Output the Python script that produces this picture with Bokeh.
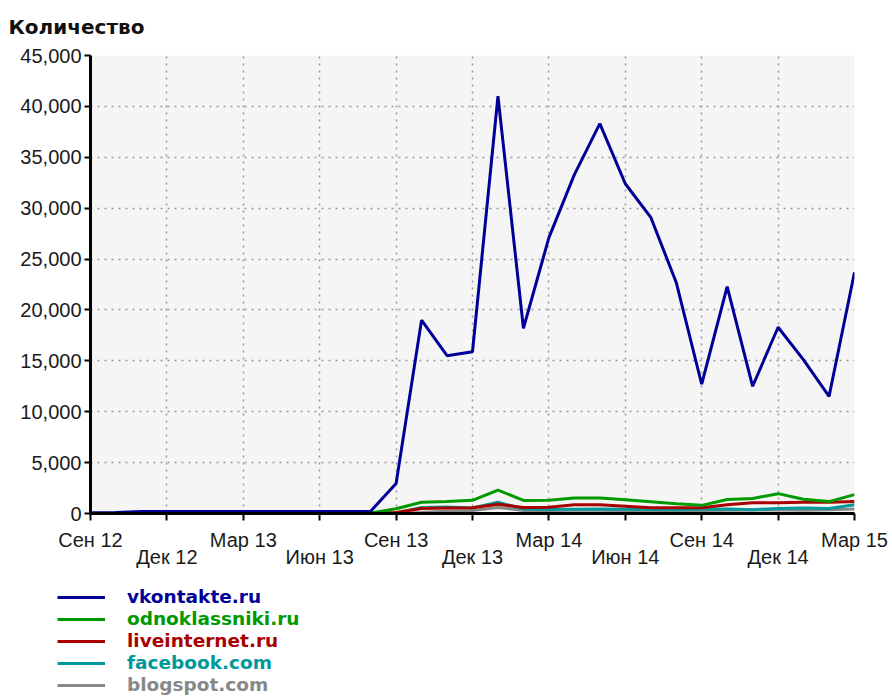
from bokeh.plotting import figure
from bokeh.layouts import column, row
from bokeh.models import Range1d, FixedTicker, LinearAxis, Legend, LegendItem
from bokeh.embed import file_html
from bokeh.resources import INLINE

# Months from Sep 2012 to Mar 2015 (index 0..30)
month_index = list(range(31))

vkontakte = [80, 90, 200, 200, 200, 200, 200, 200, 200, 200, 200, 220,
             2950, 19000, 15500, 15900, 41000, 18200, 27100, 33300, 38300,
             32400, 29100, 22700, 12700, 22300, 12500, 18300, 15100, 11500, 23700]
odnoklassniki = [0, 0, 30, 30, 30, 30, 30, 30, 30, 30, 40, 50,
                 460, 1100, 1180, 1300, 2300, 1280, 1300, 1520, 1520,
                 1350, 1150, 950, 800, 1380, 1480, 1950, 1400, 1170, 1850]
liveinternet = [0, 0, 0, 0, 0, 0, 0, 0, 0, 0, 0, 0,
                100, 500, 540, 560, 900, 600, 620, 850, 850,
                720, 560, 560, 560, 850, 1050, 1050, 1100, 1100, 1180]
facebook = [0, 0, 0, 0, 0, 0, 0, 0, 0, 0, 0, 0,
            50, 600, 650, 550, 1100, 450, 400, 420, 430,
            420, 400, 380, 420, 450, 380, 500, 550, 500, 850]
blogspot = [0, 0, 0, 0, 0, 0, 0, 0, 0, 0, 0, 0,
            0, 100, 250, 300, 600, 300, 300, 320, 320,
            300, 280, 300, 300, 330, 350, 360, 330, 380, 450]

series_names = ["vkontakte.ru", "odnoklassniki.ru", "liveinternet.ru", "facebook.com", "blogspot.com"]
series_values = [vkontakte, odnoklassniki, liveinternet, facebook, blogspot]
series_colors = ["#000099", "#009900", "#aa0000", "#009999", "#888888"]

x_ticks = [0, 3, 6, 9, 12, 15, 18, 21, 24, 27, 30]
x_tick_labels = ["Сен 12", "Дек 12", "Мар 13", "Июн 13", "Сен 13", "Дек 13",
                 "Мар 14", "Июн 14", "Сен 14", "Дек 14", "Мар 15"]
y_ticks = [0, 5000, 10000, 15000, 20000, 25000, 30000, 35000, 40000, 45000]
y_tick_labels = ["0", "5,000", "10,000", "15,000", "20,000", "25,000",
                 "30,000", "35,000", "40,000", "45,000"]
title_text = "Количество"

TICK_FONT = "Liberation Sans"

p = figure(frame_width=764, frame_height=458,
           min_border_left=90, min_border_right=34, min_border_top=55, min_border_bottom=62,
           x_range=Range1d(0, 30), y_range=Range1d(0, 45000),
           output_backend="svg", toolbar_location=None,
           background_fill_color="#f5f5f5", border_fill_color="white")
p.outline_line_color = None

# title
p.title.text = title_text
p.title.text_font = "DejaVu Sans"
p.title.text_font_style = "bold"
p.title.text_font_size = "20px"
p.title.text_color = "#111111"
p.title.align = "left"
p.title.vertical_align = "top"
p.title.offset = -82
p.title.standoff = 29

# grids
p.xgrid.ticker = FixedTicker(ticks=x_ticks)
p.ygrid.ticker = FixedTicker(ticks=y_ticks)
for g in (p.xgrid, p.ygrid):
    g.grid_line_color = "#999999"
    g.grid_line_dash = "2 5"
    g.grid_line_width = 1.5

# y axis
ya = p.yaxis[0]
ya.ticker = FixedTicker(ticks=y_ticks)
ya.major_label_overrides = {t: l for t, l in zip(y_ticks, y_tick_labels)}
ya.axis_line_width = 3
ya.axis_line_color = "black"
ya.major_tick_line_width = 2
ya.major_tick_out = 6
ya.major_tick_in = 0
ya.minor_tick_line_color = None
ya.major_label_standoff = 3
ya.major_label_text_font = TICK_FONT
ya.major_label_text_font_size = "20px"
ya.major_label_text_color = "#1a1a1a"

# x axis, first row of labels
xa = p.xaxis[0]
xa.ticker = FixedTicker(ticks=x_ticks)
xa.major_label_overrides = {t: (l if i % 2 == 0 else "") for i, (t, l) in enumerate(zip(x_ticks, x_tick_labels))}
xa.axis_line_width = 3
xa.axis_line_color = "black"
xa.major_tick_line_width = 2
xa.major_tick_out = 7
xa.major_tick_in = 0
xa.minor_tick_line_color = None
xa.major_label_standoff = 8
xa.major_label_text_font = TICK_FONT
xa.major_label_text_font_size = "20px"
xa.major_label_text_color = "#1a1a1a"

# x axis, second row of labels
xa2 = LinearAxis(ticker=FixedTicker(ticks=x_ticks))
xa2.major_label_overrides = {t: (l if i % 2 == 1 else "") for i, (t, l) in enumerate(zip(x_ticks, x_tick_labels))}
xa2.axis_line_color = None
xa2.major_tick_line_color = None
xa2.major_tick_out = 0
xa2.major_tick_in = 0
xa2.minor_tick_line_color = None
xa2.major_label_standoff = -8
xa2.major_label_text_font = TICK_FONT
xa2.major_label_text_font_size = "20px"
xa2.major_label_text_color = "#1a1a1a"
p.add_layout(xa2, "below")

# lines (blue drawn last, on top)
for name, vals, col in reversed(list(zip(series_names, series_values, series_colors))):
    p.line(month_index, vals, line_color=col, line_width=3)

# legend panel below the chart (one legend per row so each label has its colour)
lg = figure(width=888, height=122, x_range=Range1d(0, 1), y_range=Range1d(0, 1),
            x_axis_type=None, y_axis_type=None, min_border=0,
            output_backend="svg", toolbar_location=None,
            background_fill_color="white", border_fill_color="white")
lg.outline_line_color = None
lg.grid.visible = False

row_offsets = [90, 68, 46, 24, 2]
for name, col, yoff in zip(series_names, series_colors, row_offsets):
    # legend proxy: a single point, which draws no visible segment
    r = lg.line(x=[-1], y=[-1], line_color=col, line_width=3)
    leg = Legend(items=[LegendItem(label=name, renderers=[r])],
                 location=(57, yoff),
                 label_text_color=col, label_text_font="DejaVu Sans",
                 label_text_font_style="bold", label_text_font_size="18.5px",
                 glyph_width=48, glyph_height=20, label_height=20, label_standoff=22,
                 padding=0, margin=0, spacing=0,
                 border_line_color=None, background_fill_alpha=0)
    lg.add_layout(leg)

layout = column(p, row(lg), spacing=0)
open("out.html", "w").write(file_html(layout, INLINE))
